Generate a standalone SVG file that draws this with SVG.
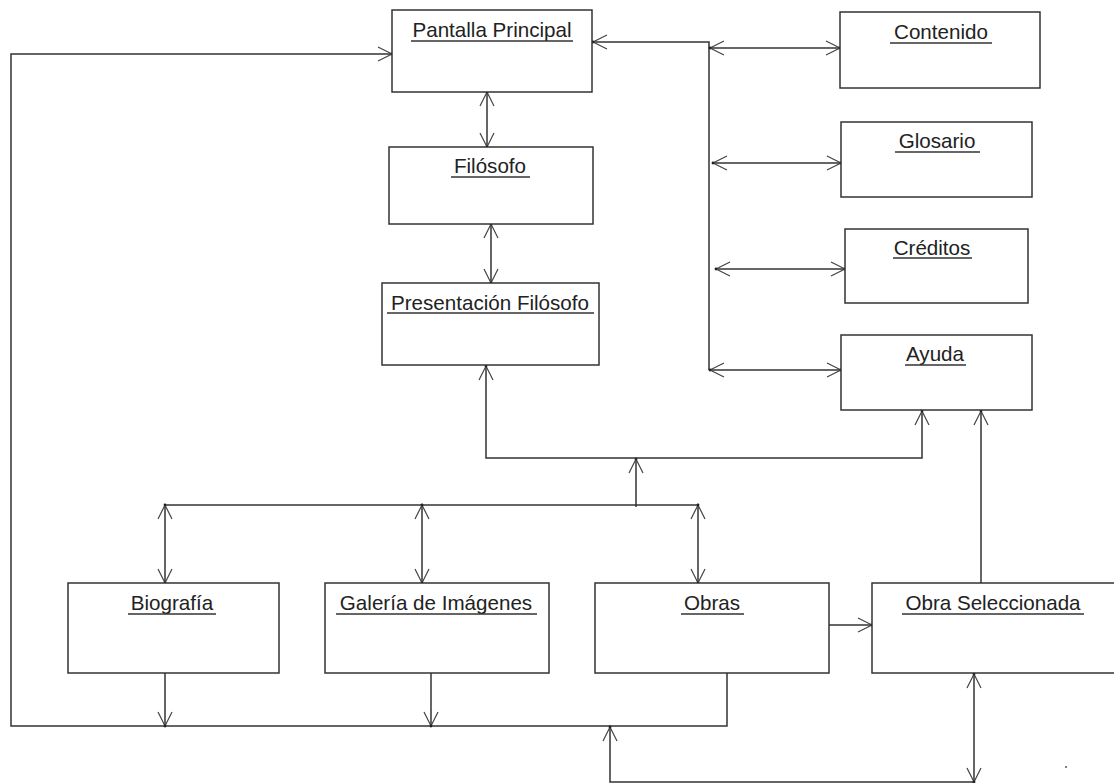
<svg xmlns="http://www.w3.org/2000/svg" width="1114" height="783" viewBox="0 0 1114 783">
  <style>
    .box { fill: #ffffff; stroke: #333333; stroke-width: 1.5; }
    .lbl { font-family: "Liberation Sans", Arial, sans-serif; font-size: 20.6px; fill: #222222; text-anchor: middle; }
    .ul { stroke: #333333; stroke-width: 1.4; }
    .wire { fill: none; stroke: #333333; stroke-width: 1.5; }
  </style>
  <defs>
    <marker id="head" markerUnits="userSpaceOnUse" markerWidth="18" markerHeight="18" refX="15" refY="8" orient="auto-start-reverse" overflow="visible">
      <path d="M1,1 L15,8 L1,15" fill="none" stroke="#444444" stroke-width="1.2"/>
      <circle cx="15" cy="8" r="1.4" fill="#222222"/>
    </marker>
  </defs>
  <rect width="1114" height="783" fill="#ffffff"/>

  <!-- connectors -->
  <g id="connectors">
    <!-- return loop from Obras back to Pantalla Principal -->
    <polyline class="wire" points="727,673 727,726 11,726 11,54 392,54" marker-end="url(#head)"/>
    <line class="wire" x1="165" y1="673" x2="165" y2="726" marker-end="url(#head)"/>
    <line class="wire" x1="431" y1="673" x2="431" y2="726" marker-end="url(#head)"/>
    <!-- lower return path from Obra Seleccionada -->
    <polyline class="wire" points="974,782 610,782 610,727" marker-end="url(#head)"/>
    <line class="wire" x1="974" y1="674" x2="974" y2="782" marker-start="url(#head)" marker-end="url(#head)"/>
    <!-- Obras to Obra Seleccionada -->
    <line class="wire" x1="829" y1="625" x2="872" y2="625" marker-end="url(#head)"/>
    <!-- Obra Seleccionada up to Ayuda -->
    <line class="wire" x1="981" y1="583" x2="981" y2="411" marker-end="url(#head)"/>
    <!-- lower bus -->
    <line class="wire" x1="164" y1="505" x2="698" y2="505"/>
    <line class="wire" x1="165" y1="505" x2="165" y2="583" marker-start="url(#head)" marker-end="url(#head)"/>
    <line class="wire" x1="422" y1="505" x2="422" y2="583" marker-start="url(#head)" marker-end="url(#head)"/>
    <line class="wire" x1="698" y1="505" x2="698" y2="583" marker-start="url(#head)" marker-end="url(#head)"/>
    <line class="wire" x1="636" y1="507" x2="636" y2="459" marker-end="url(#head)"/>
    <!-- upper bus -->
    <polyline class="wire" points="486,366 486,458 922,458 922,411" marker-start="url(#head)" marker-end="url(#head)"/>
    <!-- vertical chain -->
    <line class="wire" x1="487" y1="92" x2="487" y2="147" marker-start="url(#head)" marker-end="url(#head)"/>
    <line class="wire" x1="491" y1="224" x2="491" y2="283" marker-start="url(#head)" marker-end="url(#head)"/>
    <!-- side menu bus -->
    <polyline class="wire" points="709,370 709,42 593,42" marker-end="url(#head)"/>
    <line class="wire" x1="710" y1="48" x2="840" y2="48" marker-start="url(#head)" marker-end="url(#head)"/>
    <line class="wire" x1="713" y1="163" x2="841" y2="163" marker-start="url(#head)" marker-end="url(#head)"/>
    <line class="wire" x1="716" y1="269" x2="845" y2="269" marker-start="url(#head)" marker-end="url(#head)"/>
    <line class="wire" x1="710" y1="370" x2="841" y2="370" marker-start="url(#head)" marker-end="url(#head)"/>
    <circle cx="1066" cy="767" r="1" fill="#555555"/>
  </g>

  <g id="pantalla-principal">
    <rect class="box" x="392" y="10" width="200" height="82"/>
    <text class="lbl" x="492" y="37">Pantalla Principal</text>
    <line class="ul" x1="411" y1="41" x2="573" y2="41"/>
  </g>
  <g id="filosofo">
    <rect class="box" x="389" y="147" width="204" height="77"/>
    <text class="lbl" x="490" y="173">Filósofo</text>
    <line class="ul" x1="451" y1="177" x2="530" y2="177"/>
  </g>
  <g id="presentacion-filosofo">
    <rect class="box" x="382" y="283" width="217" height="82"/>
    <text class="lbl" x="490" y="310">Presentación Filósofo</text>
    <line class="ul" x1="387" y1="313" x2="594" y2="313"/>
  </g>
  <g id="contenido">
    <rect class="box" x="840" y="12" width="200" height="76"/>
    <text class="lbl" x="941" y="39">Contenido</text>
    <line class="ul" x1="890" y1="43" x2="992" y2="43"/>
  </g>
  <g id="glosario">
    <rect class="box" x="841" y="122" width="191" height="75"/>
    <text class="lbl" x="937" y="148">Glosario</text>
    <line class="ul" x1="895" y1="152" x2="980" y2="152"/>
  </g>
  <g id="creditos">
    <rect class="box" x="845" y="229" width="183" height="74"/>
    <text class="lbl" x="932" y="255">Créditos</text>
    <line class="ul" x1="893" y1="258" x2="972" y2="258"/>
  </g>
  <g id="ayuda">
    <rect class="box" x="841" y="335" width="191" height="75"/>
    <text class="lbl" x="935" y="361">Ayuda</text>
    <line class="ul" x1="905" y1="365" x2="966" y2="365"/>
  </g>
  <g id="biografia">
    <rect class="box" x="68" y="583" width="211" height="90"/>
    <text class="lbl" x="172" y="610">Biografía</text>
    <line class="ul" x1="128" y1="614" x2="216" y2="614"/>
  </g>
  <g id="galeria-imagenes">
    <rect class="box" x="325" y="583" width="224" height="90"/>
    <text class="lbl" x="436" y="610">Galería de Imágenes</text>
    <line class="ul" x1="336" y1="614" x2="537" y2="614"/>
  </g>
  <g id="obras">
    <rect class="box" x="595" y="583" width="234" height="90"/>
    <text class="lbl" x="712" y="610">Obras</text>
    <line class="ul" x1="681" y1="614" x2="744" y2="614"/>
  </g>
  <g id="obra-seleccionada">
    <rect class="box" x="872" y="583" width="250" height="90"/>
    <text class="lbl" x="993" y="610">Obra Seleccionada</text>
    <line class="ul" x1="902" y1="614" x2="1084" y2="614"/>
  </g>
</svg>
